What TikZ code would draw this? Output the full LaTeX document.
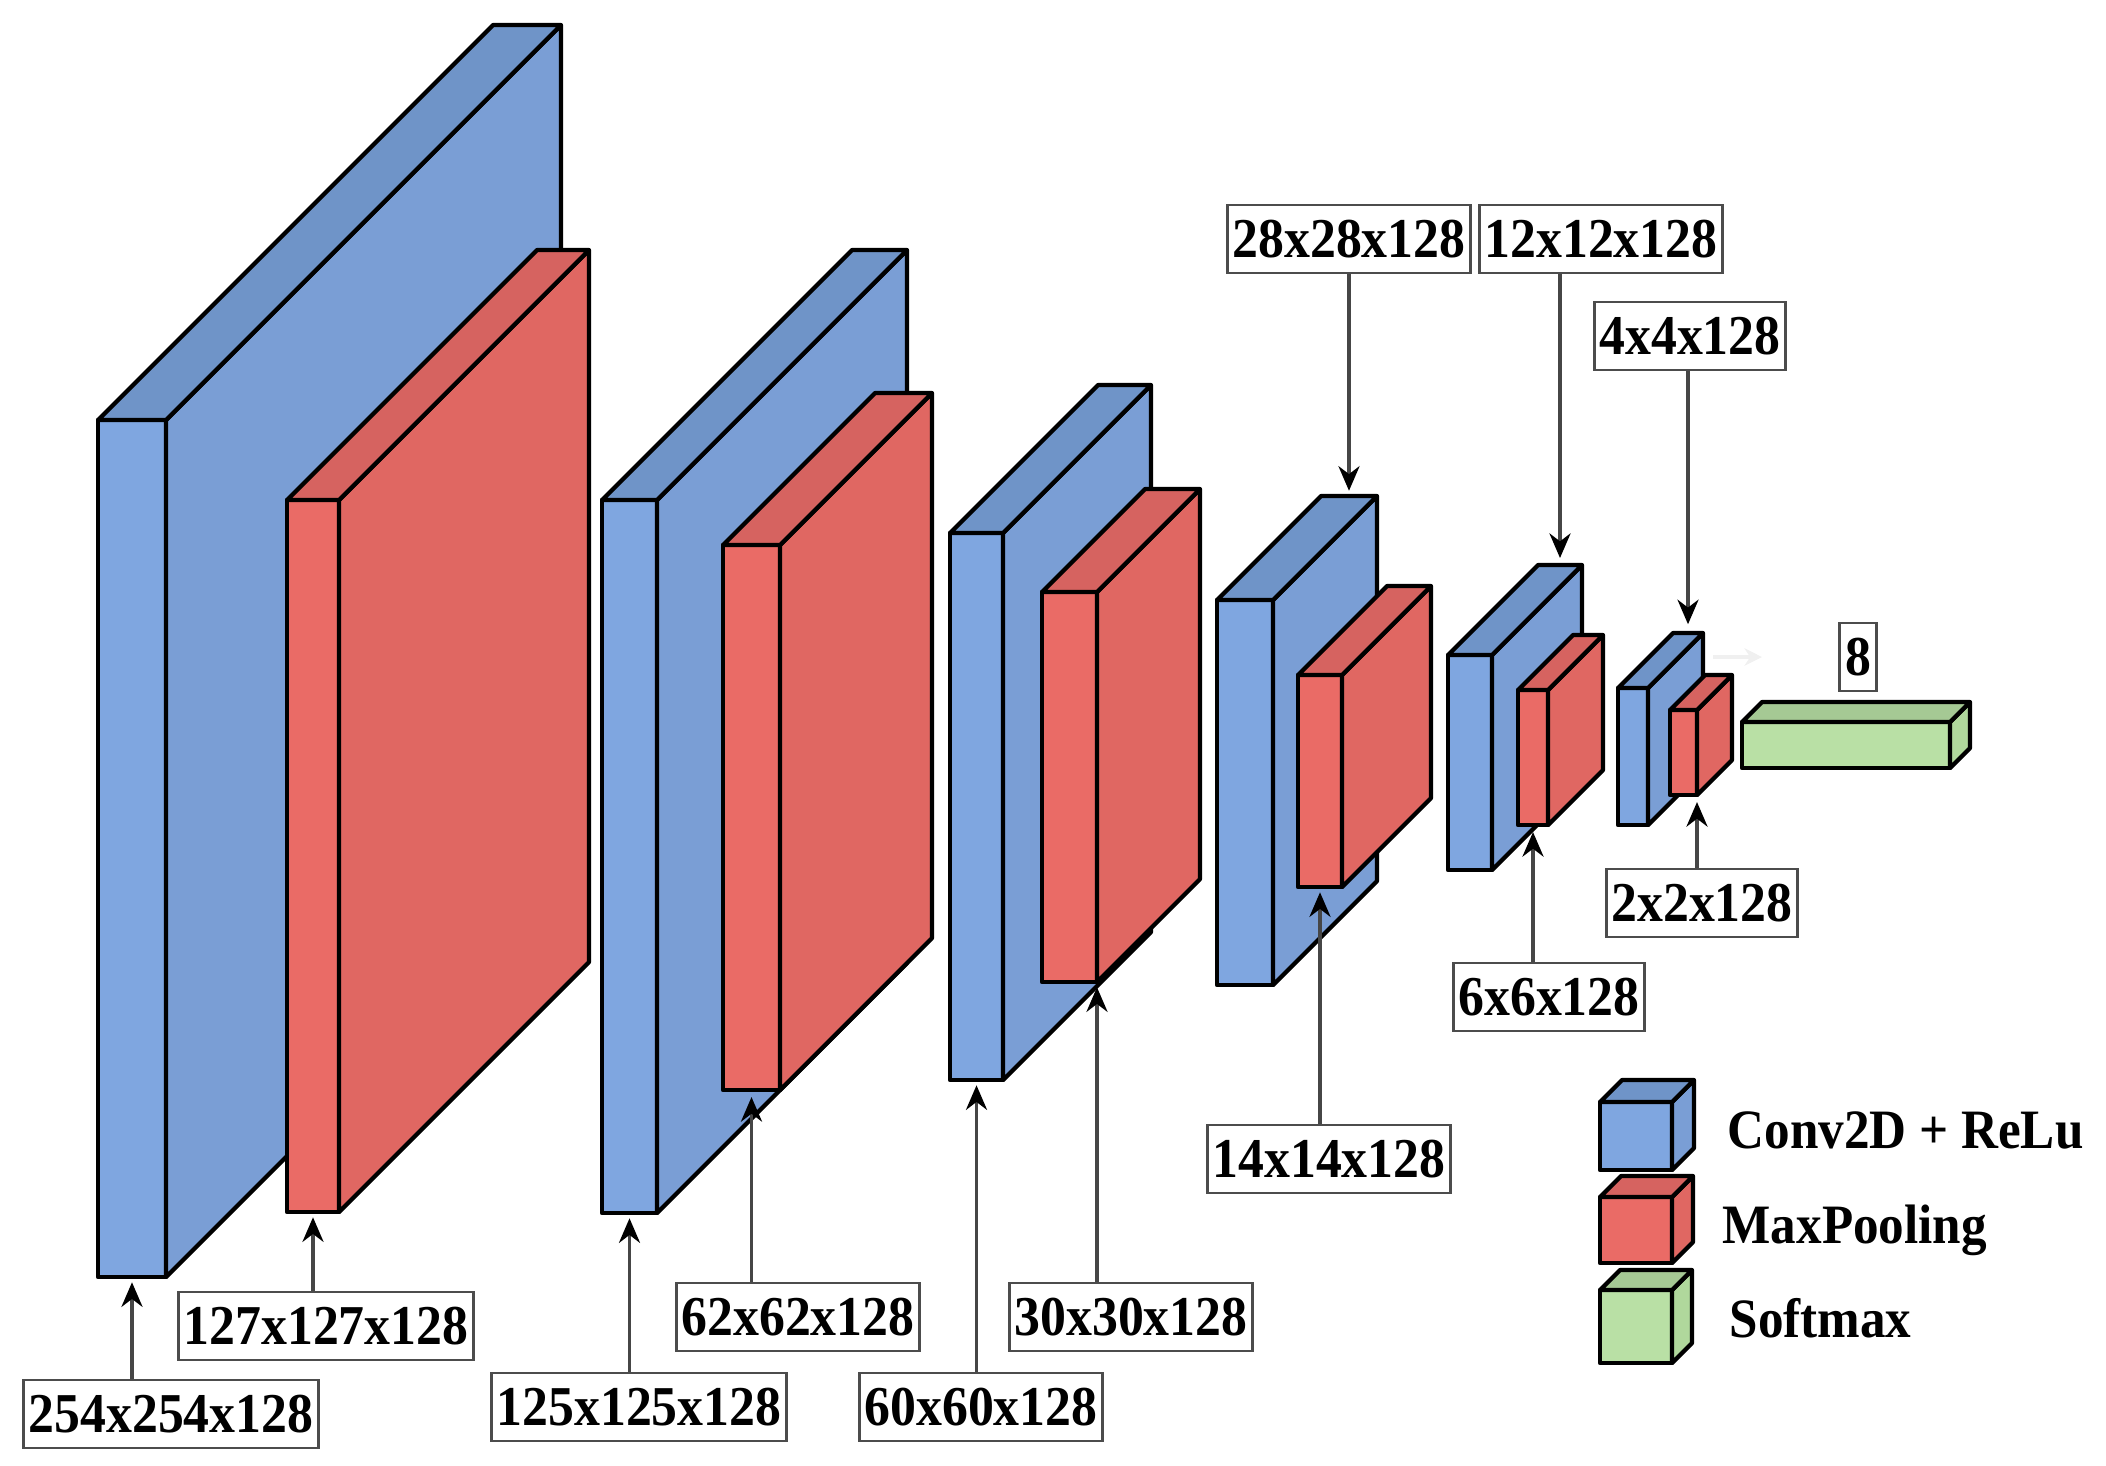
\documentclass[tikz,border=0pt]{standalone}
\usepackage{fontspec}
\setmainfont{Liberation Serif}
\newfontfamily\dimfont[FakeStretch=0.92]{Liberation Serif}
\usetikzlibrary{arrows.meta}
\definecolor{bfront}{HTML}{7FA6E0}
\definecolor{bside}{HTML}{7A9ED5}
\definecolor{btop}{HTML}{6F94C8}
\definecolor{rfront}{HTML}{EA6B66}
\definecolor{rside}{HTML}{E06762}
\definecolor{rtop}{HTML}{D66360}
\definecolor{gfront}{HTML}{B9E0A5}
\definecolor{gside}{HTML}{B0D89C}
\definecolor{gtop}{HTML}{A5C994}
% #1 name, #2 colour, #3 x left, #4 x right, #5 y top, #6 y bottom, #7 depth
\newcommand{\layer}[7]{%
  \filldraw [face, fill=#2front] (#3,#5) rectangle (#4,#6);
  \filldraw [face, fill=#2side] (#4,#5) -- ({#4+#7},{#5-#7}) -- ({#4+#7},{#6-#7}) -- (#4,#6) -- cycle;
  \filldraw [face, fill=#2top] (#3,#5) -- ({#3+#7},{#5-#7}) -- ({#4+#7},{#5-#7}) -- (#4,#5) -- cycle;
  \coordinate (#1-b) at ({(#3+#4)/2},#6);
  \coordinate (#1-br) at (#4,#6);
  \coordinate (#1-t) at ({(#3+#4)/2+#7},{#5-#7});
}
\begin{document}
\begin{tikzpicture}[x=0.01cm, y=-0.01cm,
    face/.style={draw=black, line width=1.2pt, line join=round},
    dim/.style={draw=gray!60!black, line width=0.8pt, fill=white, inner xsep=1.5pt, inner ysep=0pt,
      minimum height=0.68cm, font=\dimfont\bfseries\fontsize{16}{16}\selectfont},
    legtext/.style={anchor=base west, inner sep=0pt, font=\dimfont\bfseries\fontsize{15.8}{16}\selectfont},
    conn/.style={draw=gray!55!black, line width=0.9pt, -{Stealth[length=7pt, width=6pt, color=black]}}]
    \useasboundingbox (0,0) rectangle (2106,1465);
    \layer{B1}{b}{98}{166}{420}{1277}{395}
    \layer{R1}{r}{287}{339}{500}{1212}{250}
    \layer{B2}{b}{602}{657}{500}{1213}{250}
    \layer{R2}{r}{723}{780}{545}{1090}{152}
    \layer{B3}{b}{950}{1003}{533}{1080}{148}
    \layer{R3}{r}{1042}{1097}{592}{982}{103}
    \layer{B4}{b}{1217}{1273}{600}{985}{104}
    \layer{R4}{r}{1298}{1342}{675}{887}{89}
    \layer{B5}{b}{1448}{1492}{655}{870}{90}
    \layer{R5}{r}{1518}{1548}{690}{825}{55}
    \layer{B6}{b}{1618}{1648}{688}{825}{55}
    \layer{R6}{r}{1670}{1697}{710}{795}{35}
    \layer{G}{g}{1742}{1950}{722}{768}{20}
    \coordinate (f1) at (1713,657);
    \coordinate (f2) at (1762,657);
    \draw [gray!12, line width=1.4pt, -{Stealth[length=5pt, width=5pt]}] (f1) -- (f2);

    \node [dim] (l254) at(171,1414) {254x254x128};
    \node [dim] (l127) at(326,1326) {127x127x128};
    \node [dim] (l125) at(639,1407) {125x125x128};
    \node [dim] (l62) at(798,1317) {62x62x128};
    \node [dim] (l60) at(981,1407) {60x60x128};
    \node [dim] (l30) at(1131,1317) {30x30x128};
    \node [dim] (l14) at(1329,1159) {14x14x128};
    \node [dim] (l6) at(1549,997) {6x6x128};
    \node [dim] (l2) at(1702,903) {2x2x128};
    \node [dim] (l28) at(1349,239) {28x28x128};
    \node [dim] (l12) at(1601,239) {12x12x128};
    \node [dim] (l4) at(1690,336) {4x4x128};
    \node [dim] (l8) at(1858,657) {8};

    \draw [conn, shorten >=1.5pt] (l254.north -| B1-b) -- (B1-b);
    \draw [conn, shorten >=1.5pt] (l127.north -| R1-b) -- (R1-b);
    \draw [conn, shorten >=1.5pt] (l125.north -| B2-b) -- (B2-b);
    \draw [conn, shorten >=2pt] (l62.north -| R2-b) -- (R2-b);
    \draw [conn, shorten >=1.5pt] (l60.north -| B3-b) -- (B3-b);
    \draw [conn, shorten >=1.5pt] (l30.north -| R3-br) -- (R3-br);
    \draw [conn, shorten >=1.5pt] (l14.north -| R4-b) -- (R4-b);
    \draw [conn, shorten >=2pt] (l6.north -| R5-b) -- (R5-b);
    \draw [conn, shorten >=2pt] (l2.north -| R6-br) -- (R6-br);
    \draw [conn, shorten >=1.5pt] (l28.south -| B4-t) -- (B4-t);
    \draw [conn, shorten >=2pt] (l12.south -| B5-t) -- (B5-t);
    \draw [conn, shorten >=2.5pt] (l4.south -| B6-t) -- (B6-t);

    \layer{LC}{b}{1600}{1672}{1102}{1170}{22}
    \layer{LM}{r}{1600}{1672}{1197}{1263}{21}
    \layer{LS}{g}{1600}{1672}{1290}{1363}{20}
    \node [legtext] (tconv) at(1727,1148) {Conv2D + ReLu};
    \node [legtext] (tpool) at(1722,1243) {MaxPooling};
    \node [legtext] (tsoft) at(1729,1337) {Softmax};
\end{tikzpicture}
\end{document}
